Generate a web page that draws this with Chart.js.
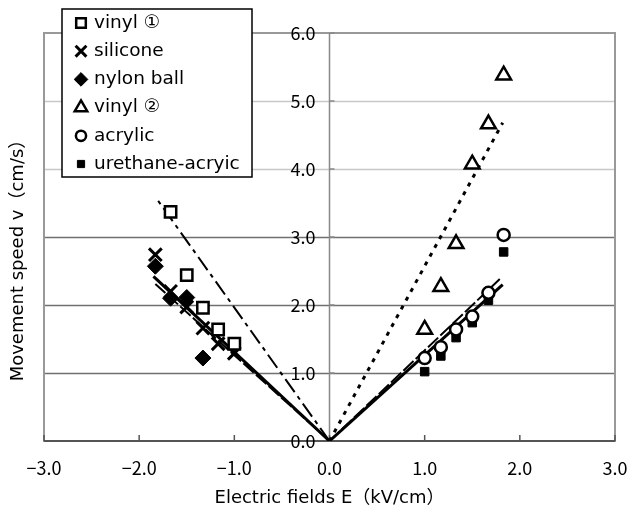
<!DOCTYPE html>
<html>
<head>
<meta charset="utf-8">
<script src="https://cdn.jsdelivr.net/npm/chart.js"></script>
<style>
  html, body { margin: 0; padding: 0; background: #fff; }
  #wrap { width: 627px; height: 514px; position: relative; }
</style>
</head>
<body>
<div id="wrap"><canvas id="chart" width="627" height="514"></canvas></div>
<script>
// electric field values (kV/cm)
const vinyl1X   = [-1.67, -1.5, -1.33, -1.17, -1.0];
const siliconeX = [-1.83, -1.67, -1.5, -1.33, -1.17, -1.0];
const nylonX    = [-1.83, -1.67, -1.5, -1.33];
const posX      = [1.0, 1.17, 1.33, 1.5, 1.67, 1.83];

// movement speed (cm/s)
const vinyl1   = [3.37, 2.44, 1.96, 1.64, 1.43];
const silicone = [2.74, 2.20, 1.97, 1.66, 1.43, 1.29];
const nylonBall = [2.57, 2.10, 2.11, 1.22];
const vinyl2   = [1.64, 2.27, 2.90, 4.07, 4.66, 5.38];
const acrylic  = [1.22, 1.38, 1.64, 1.83, 2.18, 3.03];
const urethane = [1.02, 1.25, 1.52, 1.74, 2.07, 2.78];

// approximate lines through the origin (end point)
const vinyl1Fit   = [[0, 0], [-1.83, 3.59]];
const siliconeFit = [[0, 0], [-1.85, 2.42]];
const nylonFit    = [[0, 0], [-1.83, 2.31]];
const vinyl2Fit   = [[0, 0], [1.82, 4.68]];
const acrylicFit  = [[0, 0], [1.81, 2.41]];
const urethaneFit = [[0, 0], [1.82, 2.30]];

const xTicks = [-3, -2, -1, 0, 1, 2, 3];
const yTicks = [0, 1, 2, 3, 4, 5, 6];

const labels = ['vinyl \u2460', 'silicone', 'nylon ball', 'vinyl \u2461', 'acrylic', 'urethane-acryic'];

const FONT = '"Noto Sans CJK JP", "Noto Sans", sans-serif';
const TEXT_FONT = '"DejaVu Sans", "Noto Sans CJK JP", sans-serif';

const pts = (xs, ys) => xs.map((x, i) => ({ x: x, y: ys[i] }));
const seg = arr => arr.map(p => ({ x: p[0], y: p[1] }));

function marks(label, xs, ys, style) {
  return Object.assign({
    label: label,
    data: pts(xs, ys),
    showLine: false,
    borderColor: '#000',
    backgroundColor: '#fff',
    order: 1
  }, style);
}

function fit(data, width, dash) {
  return {
    label: '',
    data: seg(data),
    showLine: true,
    pointRadius: 0,
    borderColor: '#000',
    borderWidth: width,
    borderDash: dash,
    order: 2
  };
}

const markerStyles = [
  { pointStyle: 'rect', pointRadius: 8, borderWidth: 2.5 },
  { pointStyle: 'crossRot', pointRadius: 9, borderWidth: 3 },
  { pointStyle: 'rectRot', pointRadius: 8, borderWidth: 1, backgroundColor: '#000' },
  { pointStyle: 'triangle', pointRadius: 8.5, borderWidth: 2.5 },
  { pointStyle: 'circle', pointRadius: 6, borderWidth: 2.5 },
  { pointStyle: 'rect', pointRadius: 6, borderWidth: 1, backgroundColor: '#000' }
];

const datasets = [
  marks(labels[0], vinyl1X, vinyl1, markerStyles[0]),
  marks(labels[1], siliconeX, silicone, markerStyles[1]),
  marks(labels[2], nylonX, nylonBall, markerStyles[2]),
  marks(labels[3], posX, vinyl2, markerStyles[3]),
  marks(labels[4], posX, acrylic, markerStyles[4]),
  marks(labels[5], posX, urethane, markerStyles[5]),
  fit(vinyl1Fit, 2, [16, 5, 4, 5]),
  fit(siliconeFit, 3, []),
  fit(nylonFit, 2, [14, 3]),
  fit(vinyl2Fit, 3, [4, 6]),
  fit(acrylicFit, 2, [14, 3]),
  fit(urethaneFit, 3, [])
];

function fmt(v) {
  return (v < 0 ? '\u2212' : '') + Math.abs(v).toFixed(1);
}

// axes, grid, labels and legend box
const decor = {
  id: 'decor',
  beforeDatasetsDraw(chart) {
    const { ctx, chartArea: a, scales: { x, y } } = chart;
    ctx.save();

    // horizontal gridlines
    yTicks.forEach(v => {
      if (v === 0 || v === 6) return;
      const py = Math.round(y.getPixelForValue(v)) + 0.5;
      ctx.strokeStyle = v <= 3 ? '#707070' : '#c8c8c8';
      ctx.lineWidth = 1.5;
      ctx.beginPath();
      ctx.moveTo(a.left, py);
      ctx.lineTo(a.right, py);
      ctx.stroke();
    });

    // frame
    ctx.strokeStyle = '#999';
    ctx.lineWidth = 2;
    ctx.strokeRect(a.left, a.top, a.right - a.left, a.bottom - a.top);

    // vertical axis at x = 0
    const x0 = x.getPixelForValue(0);
    ctx.strokeStyle = '#888';
    ctx.lineWidth = 1.5;
    ctx.beginPath();
    ctx.moveTo(x0, a.top);
    ctx.lineTo(x0, a.bottom);
    ctx.stroke();
    yTicks.forEach(v => {
      const py = y.getPixelForValue(v);
      ctx.beginPath();
      ctx.moveTo(x0, py);
      ctx.lineTo(x0 + 5, py);
      ctx.stroke();
    });

    // bottom axis with inner ticks
    ctx.strokeStyle = '#555';
    ctx.lineWidth = 2;
    ctx.beginPath();
    ctx.moveTo(a.left, a.bottom);
    ctx.lineTo(a.right, a.bottom);
    ctx.stroke();
    ctx.lineWidth = 1.5;
    xTicks.forEach(v => {
      const px = x.getPixelForValue(v);
      ctx.beginPath();
      ctx.moveTo(px, a.bottom);
      ctx.lineTo(px, a.bottom - 6);
      ctx.stroke();
    });

    // tick labels
    ctx.fillStyle = '#000';
    ctx.font = '18px ' + FONT;
    ctx.textBaseline = 'middle';
    ctx.textAlign = 'right';
    yTicks.forEach(v => {
      ctx.fillText(fmt(v), x0 - 14, y.getPixelForValue(v));
    });
    ctx.textAlign = 'center';
    xTicks.forEach(v => {
      ctx.fillText(fmt(v), x.getPixelForValue(v), a.bottom + 27);
    });

    // axis titles
    ctx.font = '18px ' + TEXT_FONT;
    ctx.fillText('Electric fields E\uff08kV/cm\uff09', x0, a.bottom + 57);
    ctx.translate(18, 256);
    ctx.rotate(-Math.PI / 2);
    ctx.fillText('Movement speed v\uff08cm/s\uff09', 0, 0);
    ctx.restore();
  },
  afterDraw(chart) {
    const ctx = chart.ctx;
    ctx.save();
    ctx.fillStyle = '#fff';
    ctx.fillRect(62, 9, 190, 168);
    ctx.strokeStyle = '#000';
    ctx.lineWidth = 1.5;
    ctx.strokeRect(62, 9, 190, 168);

    const drawPoint = Chart.helpers && Chart.helpers.drawPoint;
    labels.forEach((t, i) => {
      const cy = 23 + i * 28.2;
      const st = markerStyles[i];
      ctx.fillStyle = st.backgroundColor || '#fff';
      ctx.strokeStyle = '#000';
      ctx.lineWidth = st.borderWidth;
      if (drawPoint) {
        drawPoint(ctx, {
          pointStyle: st.pointStyle,
          radius: st.pointRadius * 0.85,
          rotation: 0,
          borderWidth: st.borderWidth
        }, 81, cy);
      }
      ctx.fillStyle = '#000';
      ctx.font = '18.5px ' + TEXT_FONT;
      ctx.textAlign = 'left';
      ctx.textBaseline = 'middle';
      ctx.fillText(t, 94, cy);
    });
    ctx.restore();
  }
};

new Chart(document.getElementById('chart'), {
  type: 'scatter',
  data: { datasets: datasets },
  options: {
    responsive: false,
    animation: false,
    layout: { padding: { left: 44, right: 11, top: 33, bottom: 73 } },
    plugins: { legend: { display: false }, tooltip: { enabled: false } },
    scales: {
      x: { type: 'linear', min: -3, max: 3, display: false },
      y: { type: 'linear', min: 0, max: 6, display: false }
    }
  },
  plugins: [decor]
});
</script>
</body>
</html>
